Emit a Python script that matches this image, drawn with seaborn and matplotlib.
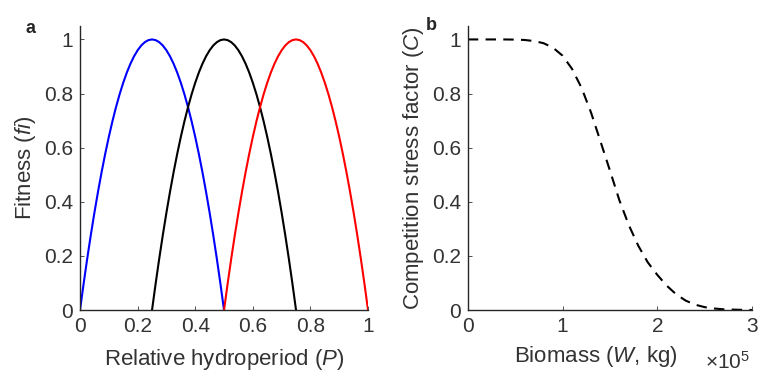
import matplotlib
matplotlib.use("Agg")
import matplotlib.pyplot as plt
import seaborn as sns
import pandas as pd

# ---- data ----
p_blue = [0.0, 0.0125, 0.025, 0.0375, 0.05, 0.0625, 0.075, 0.0875, 0.1, 0.1125, 0.125,
          0.1375, 0.15, 0.1625, 0.175, 0.1875, 0.2, 0.2125, 0.225, 0.2375, 0.25,
          0.2625, 0.275, 0.2875, 0.3, 0.3125, 0.325, 0.3375, 0.35, 0.3625, 0.375,
          0.3875, 0.4, 0.4125, 0.425, 0.4375, 0.45, 0.4625, 0.475, 0.4875, 0.5]
p_black = [0.25, 0.2625, 0.275, 0.2875, 0.3, 0.3125, 0.325, 0.3375, 0.35, 0.3625, 0.375,
           0.3875, 0.4, 0.4125, 0.425, 0.4375, 0.45, 0.4625, 0.475, 0.4875, 0.5,
           0.5125, 0.525, 0.5375, 0.55, 0.5625, 0.575, 0.5875, 0.6, 0.6125, 0.625,
           0.6375, 0.65, 0.6625, 0.675, 0.6875, 0.7, 0.7125, 0.725, 0.7375, 0.75]
p_red = [0.5, 0.5125, 0.525, 0.5375, 0.55, 0.5625, 0.575, 0.5875, 0.6, 0.6125, 0.625,
         0.6375, 0.65, 0.6625, 0.675, 0.6875, 0.7, 0.7125, 0.725, 0.7375, 0.75,
         0.7625, 0.775, 0.7875, 0.8, 0.8125, 0.825, 0.8375, 0.85, 0.8625, 0.875,
         0.8875, 0.9, 0.9125, 0.925, 0.9375, 0.95, 0.9625, 0.975, 0.9875, 1.0]
fitness = [0.0, 0.0975, 0.19, 0.2775, 0.36, 0.4375, 0.51, 0.5775, 0.64, 0.6975, 0.75,
           0.7975, 0.84, 0.8775, 0.91, 0.9375, 0.96, 0.9775, 0.99, 0.9975, 1.0,
           0.9975, 0.99, 0.9775, 0.96, 0.9375, 0.91, 0.8775, 0.84, 0.7975, 0.75,
           0.6975, 0.64, 0.5775, 0.51, 0.4375, 0.36, 0.2775, 0.19, 0.0975, 0.0]

biomass = [0.0, 0.1, 0.2, 0.3, 0.4, 0.5, 0.6, 0.7, 0.8, 0.9, 1.0, 1.1, 1.2, 1.3, 1.4, 1.5,
           1.6, 1.7, 1.8, 1.9, 2.0, 2.1, 2.2, 2.3, 2.4, 2.5, 2.6, 2.7, 2.8, 2.9, 3.0]  # x 1e5 kg
stress = [1.0, 1.0, 1.0, 1.0, 0.9999, 0.9994, 0.998, 0.994, 0.986, 0.969, 0.94, 0.891,
          0.821, 0.73, 0.623, 0.515, 0.405, 0.313, 0.237, 0.176, 0.13, 0.09, 0.058,
          0.035, 0.02, 0.011, 0.006, 0.003, 0.002, 0.001, 0.0005]

left_ticks = [0, 0.2, 0.4, 0.6, 0.8, 1]
left_ticklabels = ["0", "0.2", "0.4", "0.6", "0.8", "1"]
right_xticks = [0, 1, 2, 3]
right_xticklabels = ["0", "1", "2", "3"]

# ---- style ----
sns.set_style("ticks")
plt.rcParams["font.family"] = ["Liberation Sans", "DejaVu Sans"]
plt.rcParams["mathtext.fontset"] = "custom"
plt.rcParams["mathtext.rm"] = "Liberation Sans"
plt.rcParams["mathtext.it"] = "Liberation Sans:italic"
tc = "#333333"

fig = plt.figure(figsize=(7.62, 3.81), dpi=100)
axA = fig.add_axes([0.105, 0.186, 0.378, 0.746])
axB = fig.add_axes([0.614, 0.186, 0.373, 0.746])

df_b = pd.DataFrame({"P": p_blue, "f": fitness})
df_k = pd.DataFrame({"P": p_black, "f": fitness})
df_r = pd.DataFrame({"P": p_red, "f": fitness})
sns.lineplot(data=df_b, x="P", y="f", ax=axA, color="#0000FF", lw=1.5, sort=False)
sns.lineplot(data=df_k, x="P", y="f", ax=axA, color="black", lw=1.5, sort=False)
sns.lineplot(data=df_r, x="P", y="f", ax=axA, color="#FF0000", lw=1.5, sort=False)

df_c = pd.DataFrame({"W": biomass, "C": stress})
sns.lineplot(data=df_c, x="W", y="C", ax=axB, color="black", lw=1.5,
             linestyle=(0, (5, 3.5)))

for ax in (axA, axB):
    ax.set_ylim(0, 1.05)
    ax.set_yticks(left_ticks)
    ax.set_yticklabels(left_ticklabels)
    for s in ("top", "right"):
        ax.spines[s].set_visible(False)
    for s in ("left", "bottom"):
        ax.spines[s].set_color("#262626")
        ax.spines[s].set_linewidth(1.0)
    ax.tick_params(direction="in", length=3, width=0.6, colors=tc,
                   labelsize=15, pad=5)

axA.set_xlim(0, 1)
axA.set_xticks(left_ticks)
axA.set_xticklabels(left_ticklabels)
axA.set_xlabel("Relative hydroperiod ($\\it{P}$)", fontsize=16, color=tc, labelpad=8)
axA.set_ylabel("Fitness ($\\it{fi}$)", fontsize=16, color=tc, labelpad=4)

axB.set_xlim(0, 3)
axB.set_xticks(right_xticks)
axB.set_xticklabels(right_xticklabels)
axB.set_xlabel("Biomass ($\\it{W}$, kg)", fontsize=16, color=tc, labelpad=6, x=0.45)
axB.set_ylabel("Competition stress factor ($\\it{C}$)", fontsize=16, color=tc, labelpad=4)
fig.text(0.955, 0.05, "$\\times10^5$", fontsize=15, color=tc, ha="center", va="center")

fig.text(0.04, 0.924, "a", fontsize=13, fontweight="bold", ha="center", va="center")
fig.text(0.566, 0.934, "b", fontsize=13, fontweight="bold", ha="center", va="center")

fig.savefig("out.png", dpi=100)
